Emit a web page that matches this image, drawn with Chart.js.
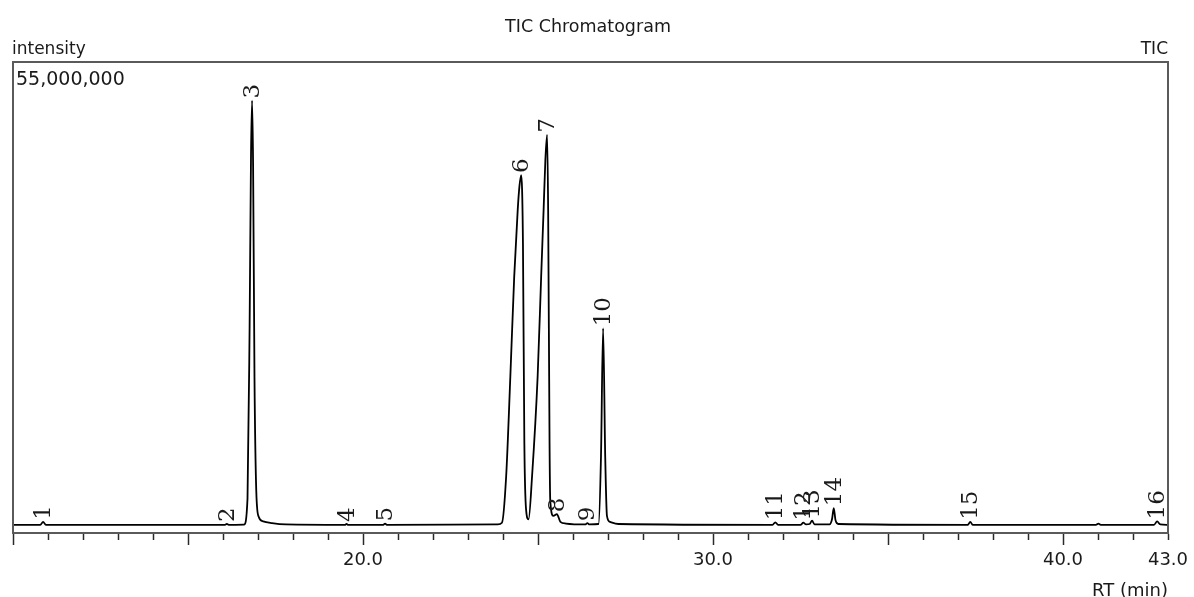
<!DOCTYPE html>
<html>
<head>
<meta charset="utf-8">
<title>TIC Chromatogram</title>
<script src="https://cdn.jsdelivr.net/npm/chart.js@4.4.1/dist/chart.umd.min.js"></script>
<style>
  html, body { margin: 0; padding: 0; background: #fff; }
  canvas { display: block; }
</style>
</head>
<body>
<canvas id="tic" width="1194" height="597"></canvas>
<script>
// retention time (min) and intensity of the trace
const rtMin = [
  10.00, 10.78, 10.86, 10.94,
  16.04, 16.11, 16.18,
  16.60, 16.70, 16.76, 16.80, 16.83, 16.86, 16.90, 16.95, 17.02, 17.15, 17.40, 17.80,
  19.48, 19.53, 19.58,
  20.58, 20.63, 20.68,
  23.85, 23.97, 24.09, 24.21, 24.32, 24.42, 24.47, 24.52, 24.57, 24.61, 24.66, 24.73,
  24.83, 24.99, 25.09, 25.16, 25.21, 25.26, 25.29, 25.33, 25.35, 25.44, 25.54, 25.64, 25.80,
  26.35, 26.41, 26.47,
  26.73, 26.80, 26.86, 26.92, 26.97, 27.06, 27.30,
  31.70, 31.78, 31.86,
  32.50, 32.58, 32.66, 32.76, 32.83, 32.90,
  33.33, 33.40, 33.45, 33.50, 33.58,
  37.28, 37.35, 37.42,
  40.94, 41.01, 41.08,
  42.60, 42.69, 42.78, 43.00
]
const intensity = [
  950000, 950000, 1300000, 950000,
  950000, 1050000, 950000,
  980000, 4000000, 24000000, 44000000, 50500000, 43000000, 18000000, 5000000, 1900000, 1350000, 1150000, 1000000,
  950000, 1050000, 950000,
  950000, 1100000, 950000,
  1000000, 1200000, 6600000, 18300000, 29900000, 37700000, 40500000, 41800000, 33900000, 10500000, 2700000, 1600000,
  6600000, 18300000, 29900000, 37700000, 43500000, 46500000, 37700000, 10500000, 3800000, 2000000, 2200000, 1300000, 1100000,
  1000000, 1150000, 1000000,
  1050000, 9000000, 23900000, 9000000, 2000000, 1300000, 1050000,
  950000, 1250000, 950000,
  950000, 1200000, 1000000, 1050000, 1450000, 1000000,
  1000000, 1600000, 2900000, 1500000, 1050000,
  950000, 1300000, 950000,
  950000, 1100000, 950000,
  950000, 1350000, 1000000, 950000
]

// peak numbers, their retention times and apex heights
const peakNo = ['1', '2', '3', '4', '5', '6', '7', '8', '9', '10', '11', '12', '13', '14', '15', '16']
const peakRt = [10.86, 16.11, 16.83, 19.53, 20.63, 24.52, 25.26, 25.54, 26.41, 26.86, 31.78, 32.58, 32.83, 33.45, 37.35, 42.69]
const peakTop = [1300000, 1050000, 50500000, 1050000, 1100000, 41800000, 46500000, 2200000, 1150000, 23900000, 1250000, 1200000, 1450000, 2900000, 1300000, 1350000]

// axis settings
const rtRange = [10, 43]
const rtLabels = [20, 30, 40, 43]
const intensityMax = 55000000

const sansFont = '"DejaVu Sans", sans-serif'
const textColor = '#1a1a1a'

// frame, header texts and peak numbers
const chromPlugin = {
  id: 'chromDecor',
  afterDatasetsDraw(chart) {
    const ctx = chart.ctx
    const x = chart.scales.x
    const y = chart.scales.y
    ctx.save()
    ctx.fillStyle = textColor
    ctx.font = '23px "DejaVu Serif", serif'
    ctx.textAlign = 'left'
    ctx.textBaseline = 'middle'
    peakNo.forEach((label, i) => {
      const px = x.getPixelForValue(peakRt[i])
      const py = y.getPixelForValue(peakTop[i]) - 2
      ctx.save()
      ctx.translate(px + 1, py)
      ctx.rotate(-Math.PI / 2)
      ctx.fillText(label, 0, 0)
      ctx.restore()
    })
    ctx.restore()
  },
  afterDraw(chart) {
    const ctx = chart.ctx
    const area = chart.chartArea
    ctx.save()
    ctx.strokeStyle = '#5a5a5a'
    ctx.lineWidth = 2
    ctx.strokeRect(area.left, area.top, area.right - area.left, area.bottom - area.top)

    ctx.fillStyle = textColor
    ctx.textBaseline = 'alphabetic'
    ctx.font = '17.5px ' + sansFont
    ctx.textAlign = 'center'
    ctx.fillText('TIC Chromatogram', 588, 32)

    ctx.font = '17px ' + sansFont
    ctx.textAlign = 'left'
    ctx.fillText('intensity', 12, 54)
    ctx.textAlign = 'right'
    ctx.fillText('TIC', area.right, 54)
    ctx.font = '18px ' + sansFont
    ctx.fillText('RT (min)', area.right, 596)

    ctx.font = '19px ' + sansFont
    ctx.textAlign = 'left'
    ctx.fillText(intensityMax.toLocaleString('en-US'), area.left + 3, 85)
    ctx.restore()
  }
}

new Chart(document.getElementById('tic'), {
  type: 'line',
  data: {
    datasets: [{
      label: 'TIC',
      data: rtMin.map((rt, i) => ({ x: rt, y: intensity[i] })),
      borderColor: '#000',
      borderWidth: 1.8,
      pointRadius: 0,
      fill: false,
      cubicInterpolationMode: 'monotone'
    }]
  },
  options: {
    responsive: false,
    animation: false,
    devicePixelRatio: 1,
    layout: { padding: { left: 13, right: 26, top: 62, bottom: 0 } },
    plugins: {
      legend: { display: false },
      title: { display: false },
      tooltip: { enabled: false }
    },
    scales: {
      x: {
        type: 'linear',
        min: rtRange[0],
        max: rtRange[1],
        afterFit(scale) { scale.height = 64 },
        border: { display: true, color: '#2a2a2a', width: 2 },
        grid: {
          drawOnChartArea: false,
          drawTicks: true,
          tickLength: 12,
          tickWidth: 1.5,
          tickColor: '#2a2a2a',
          // long ticks every 5 min, short ones every minute
          tickBorderDash: (c) => (c.tick && c.tick.value % 5 === 0) ? [] : [6, 40]
        },
        ticks: {
          stepSize: 1,
          autoSkip: false,
          maxRotation: 0,
          padding: 5,
          color: textColor,
          font: { family: sansFont, size: 18 },
          callback: (v) => rtLabels.includes(v) ? v.toFixed(1) : ''
        }
      },
      y: {
        display: false,
        min: 0,
        max: intensityMax
      }
    }
  },
  plugins: [chromPlugin]
})
</script>
</body>
</html>
